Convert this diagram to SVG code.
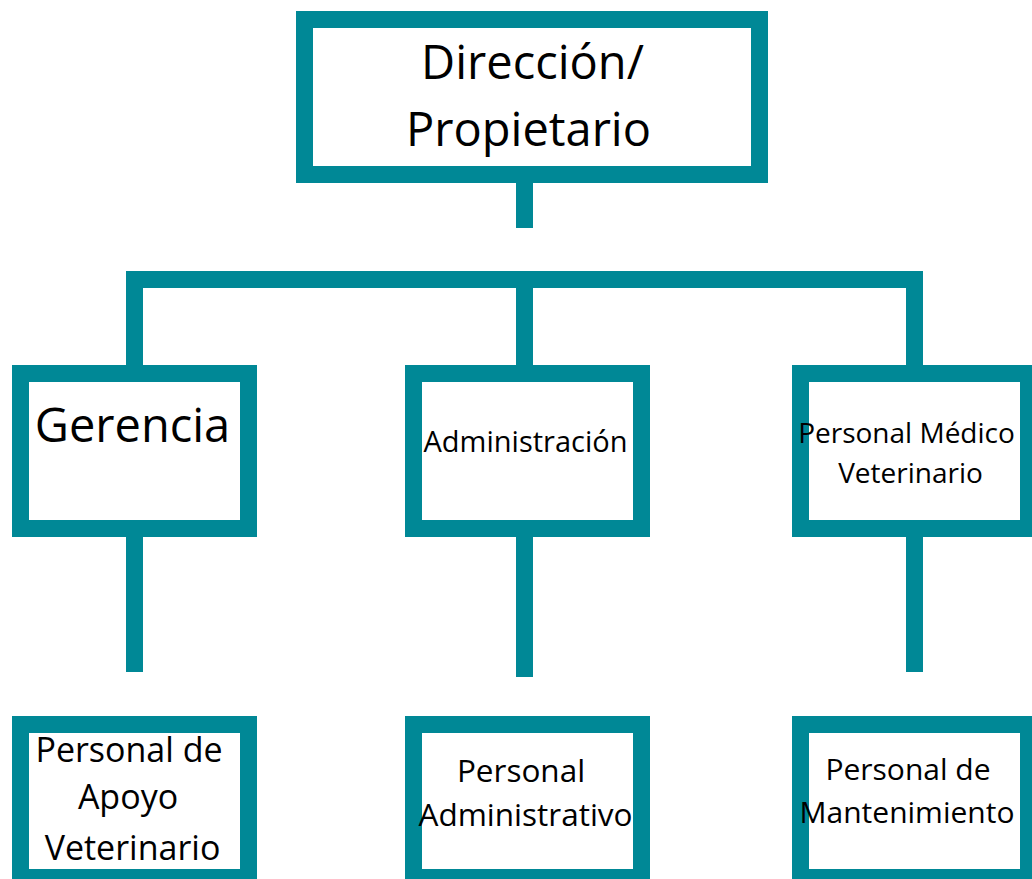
<svg xmlns="http://www.w3.org/2000/svg" width="1032" height="879" viewBox="0 0 1032 879">
<style>
.box{fill:#fff;stroke:#008896;stroke-width:17}
.ln{stroke:#008896;stroke-width:17;fill:none}
text{font-family:"Open Sans","Noto Sans",sans-serif;fill:#000;text-anchor:middle}
</style>
<rect width="1032" height="879" fill="#fff"/>
<g id="connectors">
<line class="ln" x1="524.5" y1="183" x2="524.5" y2="228"/>
<polyline class="ln" points="134.5,365 134.5,279.5 914.5,279.5 914.5,365" stroke-linejoin="miter"/>
<line class="ln" x1="524.5" y1="279.5" x2="524.5" y2="365"/>
<line class="ln" x1="134.5" y1="537" x2="134.5" y2="672"/>
<line class="ln" x1="524.5" y1="537" x2="524.5" y2="677"/>
<line class="ln" x1="914.5" y1="537" x2="914.5" y2="672"/>
</g>
<g id="direccion">
<rect class="box" x="304.5" y="19.5" width="455" height="155"/>
<text x="532.5" y="79" font-size="47">Dirección/</text>
<text x="528.5" y="146" font-size="47">Propietario</text>
</g>
<g id="gerencia">
<rect class="box" x="20.5" y="373.5" width="228" height="155"/>
<text x="132.5" y="442" font-size="47">Gerencia</text>
</g>
<g id="administracion">
<rect class="box" x="413.5" y="373.5" width="228" height="155"/>
<text x="525.5" y="452" font-size="29">Administración</text>
</g>
<g id="medico">
<rect class="box" x="800.5" y="373.5" width="228" height="155"/>
<text x="906.5" y="443" font-size="28">Personal Médico</text>
<text x="910.5" y="483" font-size="28">Veterinario</text>
</g>
<g id="apoyo">
<rect class="box" x="20.5" y="724.5" width="228" height="153"/>
<text x="129" y="762" font-size="34">Personal de</text>
<text x="128" y="809" font-size="34">Apoyo</text>
<text x="132.5" y="860" font-size="34">Veterinario</text>
</g>
<g id="personal-admin">
<rect class="box" x="413.5" y="724.5" width="228" height="153"/>
<text x="521" y="782" font-size="31.5">Personal</text>
<text x="525.5" y="826" font-size="31.5">Administrativo</text>
</g>
<g id="mantenimiento">
<rect class="box" x="800.5" y="724.5" width="228" height="153"/>
<text x="908" y="780" font-size="30">Personal de</text>
<text x="907" y="823" font-size="30">Mantenimiento</text>
</g>
</svg>
